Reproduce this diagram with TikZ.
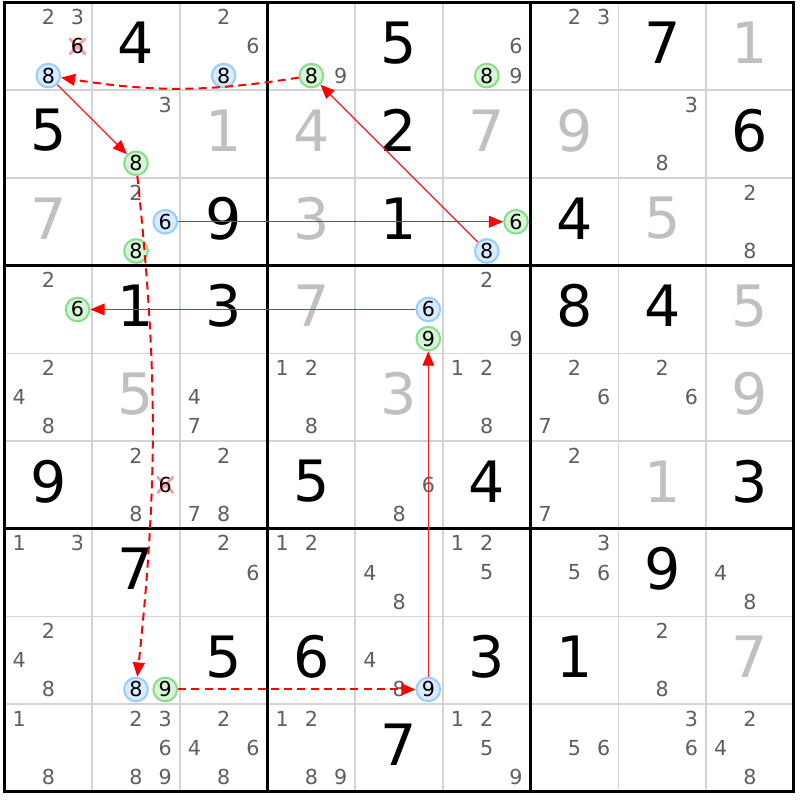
\documentclass[tikz,border=0pt]{standalone}
\usepackage{fontspec}
\setmainfont{DejaVu Sans}
\usepackage{xcolor}
\definecolor{sudGrid}{HTML}{D4D4D4}
\definecolor{sudCand}{HTML}{5F5F5F}
\definecolor{sudSolved}{HTML}{C0C0C0}
\definecolor{onFill}{HTML}{D8EBFF}
\definecolor{onBorder}{HTML}{99CCFF}
\definecolor{offFill}{HTML}{D6F5D6}
\definecolor{offBorder}{HTML}{88DD8C}
\definecolor{linkRed}{HTML}{FF0000}
\definecolor{elimPink}{HTML}{FF9C9C}
\usepackage{tikz}
\usetikzlibrary{arrows.meta}
\tikzset{
    givennum/.style={
        font=\fontsize{18.5}{18.5}\selectfont,
        text=black,
        inner sep=0pt
    },
    solvednum/.style={
        givennum,
        text=sudSolved
    },
    candnum/.style={
        font=\fontsize{6.7}{6.7}\selectfont,
        text=sudCand,
        inner sep=0pt
    },
    oncand/.style={
        candnum,
        text=black,
        circle,
        draw=onBorder,
        fill=onFill,
        line width=0.65pt,
        minimum size=0.27cm
    },
    offcand/.style={
        oncand,
        draw=offBorder,
        fill=offFill
    },
    elimcand/.style={
        candnum,
        text=black,
        minimum size=0.19cm,
        path picture={
            \draw[elimPink, line width=0.9pt]
                (path picture bounding box.south west) -- (path picture bounding box.north east)
                (path picture bounding box.north west) -- (path picture bounding box.south east);
        }
    },
    strongarrow/.style={
        -{Triangle[length=4.6pt,width=3.8pt,color=linkRed]},
        draw=linkRed!90,
        line width=0.4pt
    },
    weakarrow/.style={
        -{Triangle[length=4.6pt,width=3.8pt]},
        draw=linkRed,
        line width=0.65pt,
        dash pattern=on 2.6pt off 1.7pt
    }
}
% cell values
\newcommand{\given}[3]{\node[givennum] (g#1#2) at (#2-0.5,0.54-#1) {#3};}
\newcommand{\solved}[3]{\node[solvednum] (s#1#2) at (#2-0.5,0.54-#1) {#3};}
\newcommand{\cand}[4][candnum]{\node[#1] (c#2#3#4) at ({#3-1+(1+2*mod(#4-1,3))/6},{1-#2-(1+2*floor((#4-1)/3))/6}) {#4};}
\newcommand{\cands}[3]{\foreach \d in {#3} {\cand{#1}{#2}{\d}}}

\begin{document}
\begin{tikzpicture}[x=1cm,y=1cm]
    \useasboundingbox[fill=white] (-0.051,0.029) rectangle (9.071,-9.094);

    % Grid
    \foreach \i in {1,...,8} {
        \draw[sudGrid, line width=0.5pt] (\i,0) -- (\i,-9);
        \draw[sudGrid, line width=0.5pt] (0,-\i) -- (9,-\i);
    }
    \foreach \i in {3,6} {
        \draw[black, line width=0.85pt] (\i,0) -- (\i,-9);
        \draw[black, line width=0.85pt] (0,-\i) -- (9,-\i);
    }
    \draw[black, line width=1pt] (0,0) rectangle (9,-9);

    % Row 1
    \cands{1}{1}{2,3} \cand[elimcand]{1}{1}{6} \cand[oncand]{1}{1}{8}
    \given{1}{2}{4}
    \cands{1}{3}{2,6} \cand[oncand]{1}{3}{8}
    \cand[offcand]{1}{4}{8} \cands{1}{4}{9}
    \given{1}{5}{5}
    \cands{1}{6}{6,9} \cand[offcand]{1}{6}{8}
    \cands{1}{7}{2,3}
    \given{1}{8}{7}
    \solved{1}{9}{1}

    % Row 2
    \given{2}{1}{5}
    \cands{2}{2}{3} \cand[offcand]{2}{2}{8}
    \solved{2}{3}{1}
    \solved{2}{4}{4}
    \given{2}{5}{2}
    \solved{2}{6}{7}
    \solved{2}{7}{9}
    \cands{2}{8}{3,8}
    \given{2}{9}{6}

    % Row 3
    \solved{3}{1}{7}
    \cands{3}{2}{2} \cand[oncand]{3}{2}{6} \cand[offcand]{3}{2}{8}
    \given{3}{3}{9}
    \solved{3}{4}{3}
    \given{3}{5}{1}
    \cand[offcand]{3}{6}{6} \cand[oncand]{3}{6}{8}
    \given{3}{7}{4}
    \solved{3}{8}{5}
    \cands{3}{9}{2,8}

    % Row 4
    \cands{4}{1}{2} \cand[offcand]{4}{1}{6}
    \given{4}{2}{1}
    \given{4}{3}{3}
    \solved{4}{4}{7}
    \cand[oncand]{4}{5}{6} \cand[offcand]{4}{5}{9}
    \cands{4}{6}{2,9}
    \given{4}{7}{8}
    \given{4}{8}{4}
    \solved{4}{9}{5}

    % Row 5
    \cands{5}{1}{2,4,8}
    \solved{5}{2}{5}
    \cands{5}{3}{4,7}
    \cands{5}{4}{1,2,8}
    \solved{5}{5}{3}
    \cands{5}{6}{1,2,8}
    \cands{5}{7}{2,6,7}
    \cands{5}{8}{2,6}
    \solved{5}{9}{9}

    % Row 6
    \given{6}{1}{9}
    \cands{6}{2}{2,8} \cand[elimcand]{6}{2}{6}
    \cands{6}{3}{2,7,8}
    \given{6}{4}{5}
    \cands{6}{5}{6,8}
    \given{6}{6}{4}
    \cands{6}{7}{2,7}
    \solved{6}{8}{1}
    \given{6}{9}{3}

    % Row 7
    \cands{7}{1}{1,3}
    \given{7}{2}{7}
    \cands{7}{3}{2,6}
    \cands{7}{4}{1,2}
    \cands{7}{5}{4,8}
    \cands{7}{6}{1,2,5}
    \cands{7}{7}{3,5,6}
    \given{7}{8}{9}
    \cands{7}{9}{4,8}

    % Row 8
    \cands{8}{1}{2,4,8}
    \cand[oncand]{8}{2}{8} \cand[offcand]{8}{2}{9}
    \given{8}{3}{5}
    \given{8}{4}{6}
    \cands{8}{5}{4,8} \cand[oncand]{8}{5}{9}
    \given{8}{6}{3}
    \given{8}{7}{1}
    \cands{8}{8}{2,8}
    \solved{8}{9}{7}

    % Row 9
    \cands{9}{1}{1,8}
    \cands{9}{2}{2,3,6,8,9}
    \cands{9}{3}{2,4,6,8}
    \cands{9}{4}{1,2,8,9}
    \given{9}{5}{7}
    \cands{9}{6}{1,2,5,9}
    \cands{9}{7}{5,6}
    \cands{9}{8}{3,6}
    \cands{9}{9}{2,4,8}

    % Chain
    \draw[weakarrow] (c148) to[bend left=9] (c118);
    \draw[strongarrow] (c118) -- (c228);
    \draw[weakarrow] (c228) to[bend left=6] (c828);
    \draw[weakarrow] (c829) -- (c859);
    \draw[strongarrow] (c859) -- (c459);
    \draw[strongarrow] (c456) -- (c416);
    \draw[strongarrow] (c326) -- (c366);
    \draw[strongarrow] (c368) -- (c148);
\end{tikzpicture}
\end{document}
